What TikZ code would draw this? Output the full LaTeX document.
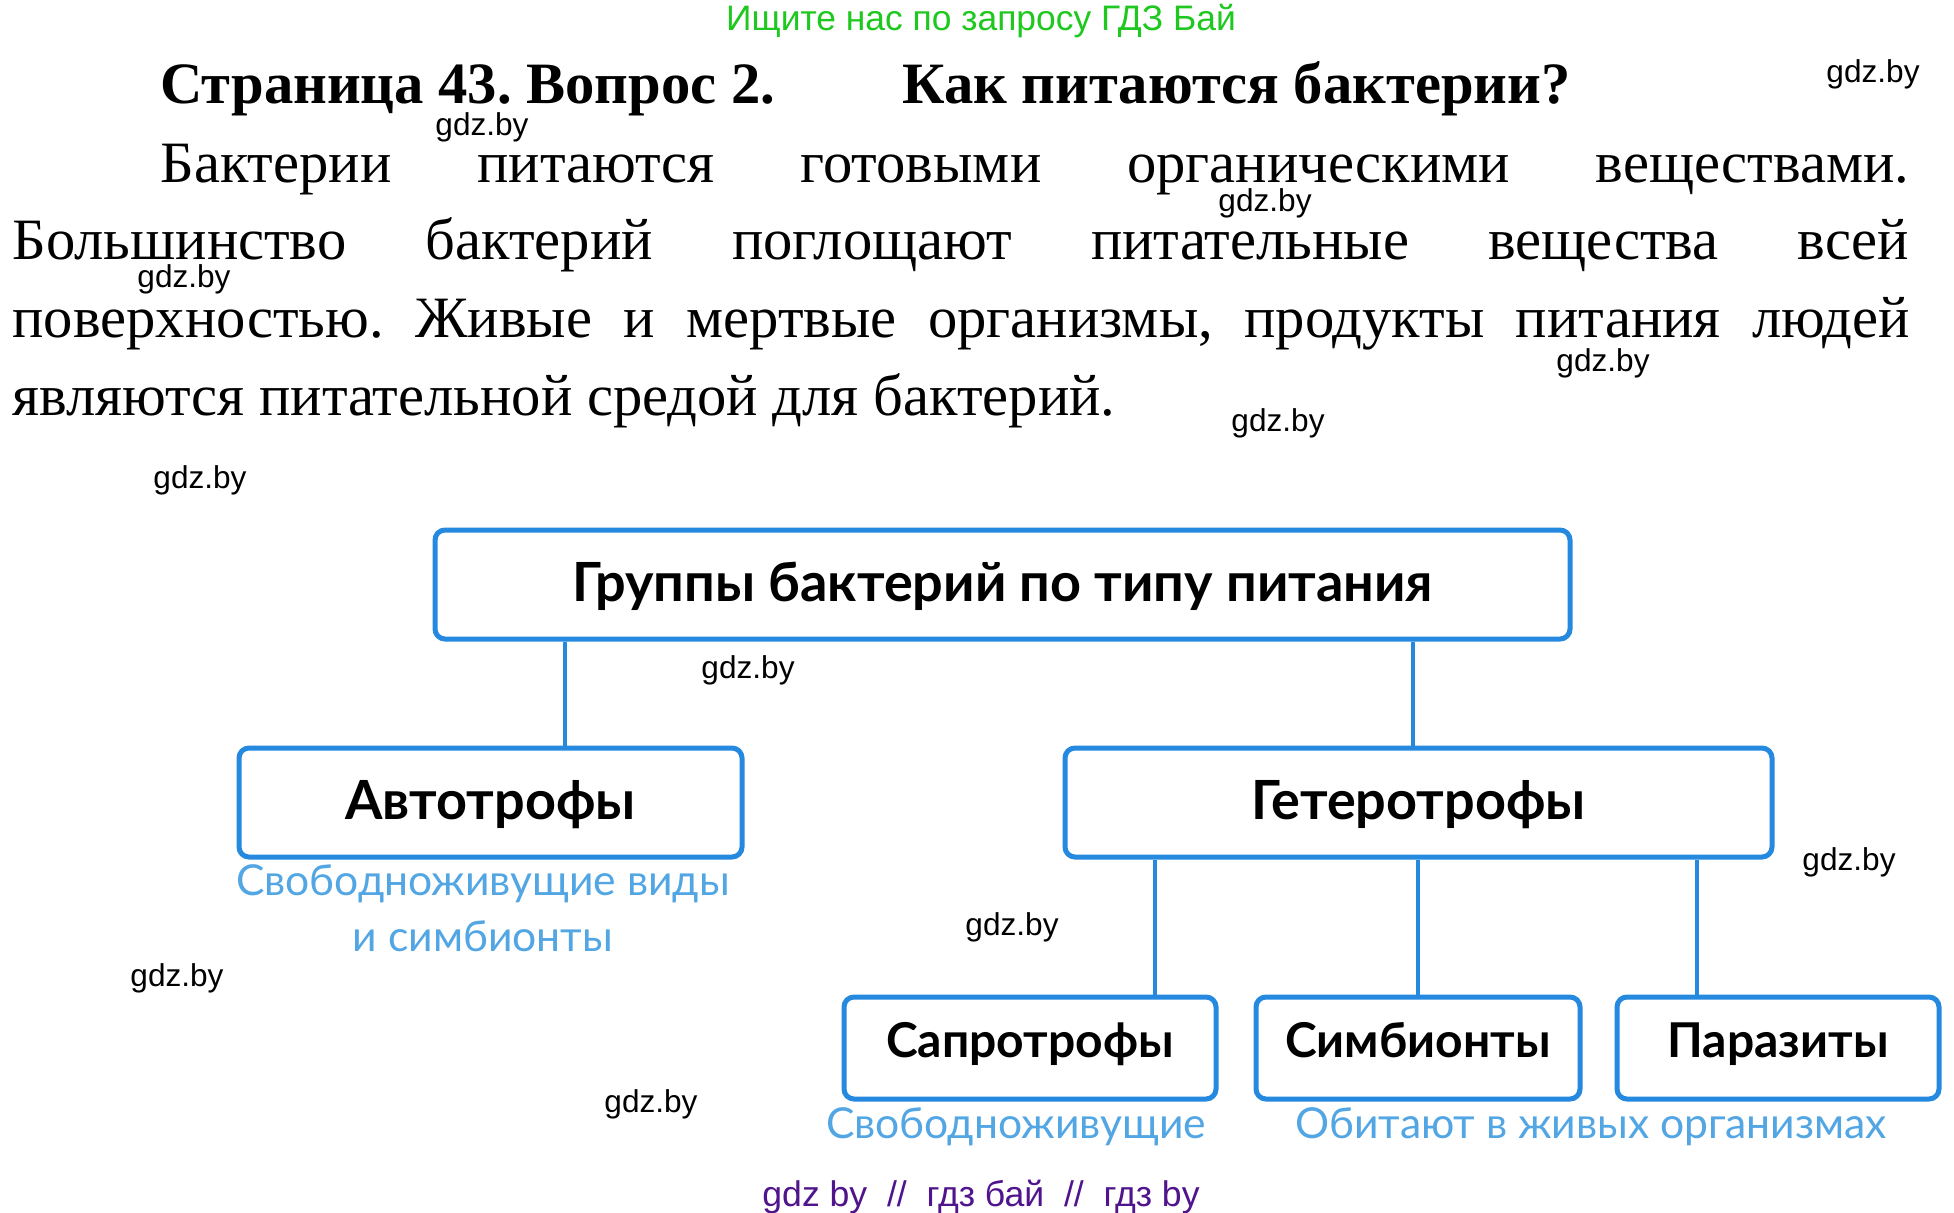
\documentclass[tikz,border=0pt]{standalone}
\usepackage{fontspec}
\setmainfont{Liberation Serif}
\setsansfont{Liberation Sans}
\newfontfamily\boxfont{Lato}
\usepackage{tikz}
\usetikzlibrary{positioning,calc}
\frenchspacing

\definecolor{boxblue}{RGB}{38,137,224}
\definecolor{noteblue}{RGB}{82,166,228}
\definecolor{adgreen}{RGB}{30,200,30}
\definecolor{adpurple}{RGB}{80,20,140}

\tikzset{
  groupbox/.style={draw=boxblue,line width=2.5pt,rounded corners=5pt,fill=white,inner sep=0pt,
    minimum height=54.5pt,text height=23pt,text depth=6pt,
    font=\boxfont\bfseries\fontsize{27}{32}\selectfont},
  smallbox/.style={groupbox,minimum height=51pt,text height=15pt,
    font=\boxfont\bfseries\fontsize{24}{29}\selectfont},
  link/.style={draw=boxblue,line width=2.2pt},
  note/.style={text=noteblue,inner sep=0pt,font=\boxfont\fontsize{21.3}{26}\selectfont},
  wmark/.style={inner sep=0pt,font=\sffamily\fontsize{15.8}{18}\selectfont},
  textline/.style={anchor=base west,inner sep=0pt,font=\fontsize{29.3}{35}\selectfont}
}

\begin{document}
\begin{tikzpicture}[x=0.5pt,y=-0.5pt]
      \useasboundingbox[fill=white] (0,0) rectangle (1954,1212);

      % header and question
      \node[anchor=base,inner sep=0pt,text=adgreen,font=\sffamily\fontsize{17.7}{21}\selectfont] (ad) at (981,30) {Ищите нас по запросу ГДЗ Бай};
      \node[anchor=base west,inner sep=0pt,font=\bfseries\fontsize{29.3}{35}\selectfont] (page) at (160,103) {Страница 43. Вопрос 2.};
      \node[anchor=base west,inner sep=0pt,font=\bfseries\fontsize{29.3}{35}\selectfont] (question) at (902,103) {Как питаются бактерии?};

      % answer text
      \node[textline] (line1) at (160,182) {\makebox[874.5pt][s]{Бактерии питаются готовыми органическими веществами.}};
      \node[textline] (line2) at (12,259) {\makebox[948.5pt][s]{Большинство бактерий поглощают питательные вещества всей}};
      \node[textline] (line3) at (12,337) {\makebox[948.5pt][s]{поверхностью. Живые и мертвые организмы, продукты питания людей}};
      \node[textline] (line4) at (12,415) {являются питательной средой для бактерий.};

      % diagram
      \node[groupbox,minimum width=567.5pt] (groups) at (1002.5,584.5) {Группы бактерий по типу питания};
      \node[groupbox,minimum width=251.5pt] (auto) at (490.5,802.5) {Автотрофы};
      \node[groupbox,minimum width=353.5pt] (hetero) at (1418.5,802.5) {Гетеротрофы};
      \node[smallbox,minimum width=186pt] (sapro) at (1030,1048) {Сапротрофы};
      \node[smallbox,minimum width=162pt] (symb) at (1418,1048) {Симбионты};
      \node[smallbox,minimum width=161pt] (parasite) at (1778,1048) {Паразиты};

      \draw[link] ($(auto.north)+(74.5,0)$) coordinate (autotop) -- (autotop |- groups.south);
      \draw[link] ($(hetero.north)+(-5.5,0)$) coordinate (heterotop) -- (heterotop |- groups.south);
      \draw[link] ($(sapro.north)+(125,0)$) coordinate (saprotop) -- (saprotop |- hetero.south);
      \draw[link] (symb.north) -- (symb.north |- hetero.south);
      \draw[link] ($(parasite.north)+(-81,0)$) coordinate (paratop) -- (paratop |- hetero.south);

      \node[note] (autonote1) at (483,884) {Свободноживущие виды};
      \node[note] (autonote2) at (483,936) {и симбионты};
      \node[note] (sapronote) at (1016,1127) {Свободноживущие};
      \node[note] (symbnote) at (1591,1127) {Обитают в живых организмах};

      % watermarks
      \foreach \wx/\wy [count=\wi] in {1873/74,482/127,1265/203,184/279,1603/363,1278/423,200/480,748/670,1012/927,1849/862,177/978,651/1104}
        \node[wmark] (wm\wi) at (\wx,\wy) {gdz.by};
      \node[anchor=base,inner sep=0pt,text=adpurple,font=\sffamily\fontsize{17.8}{21}\selectfont] (footer) at (981,1206) {gdz by\ \ //\ \ гдз бай\ \ //\ \ гдз by};
    \end{tikzpicture}
\end{document}
